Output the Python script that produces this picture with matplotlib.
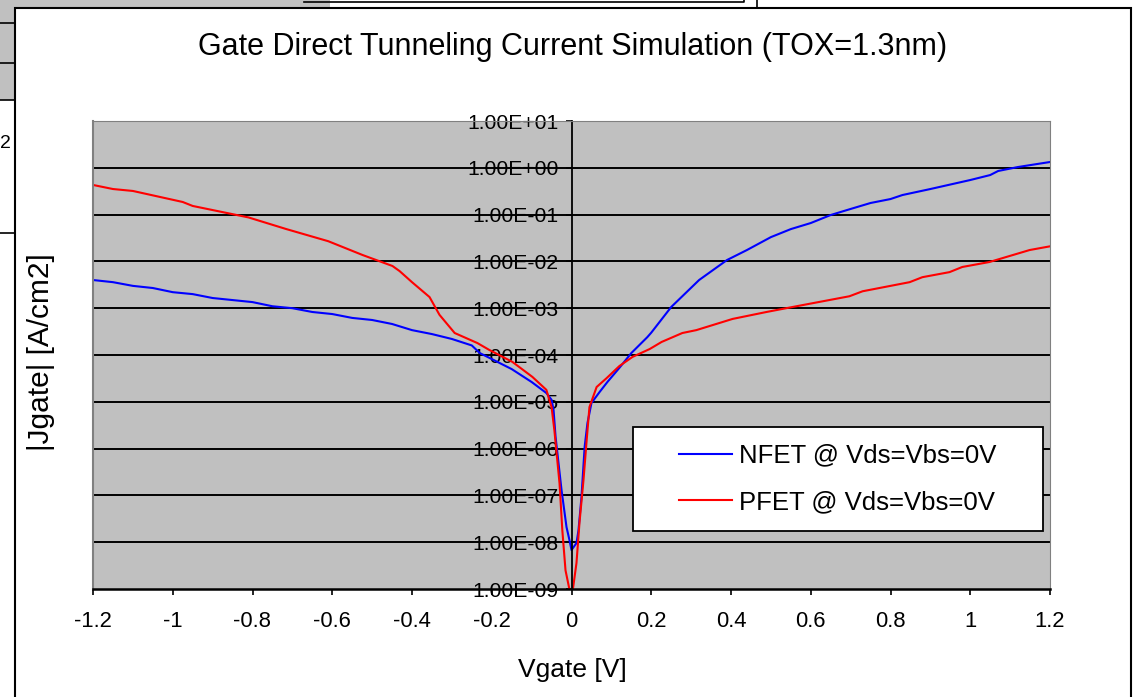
import matplotlib
matplotlib.use("Agg")
import matplotlib.pyplot as plt
from matplotlib.patches import Rectangle
from matplotlib.lines import Line2D
from matplotlib.ticker import FuncFormatter, NullLocator

plt.rcParams['font.family'] = ['Liberation Sans', 'DejaVu Sans']

# NFET gate current density vs gate voltage
nfet_v = [-1.2, -1.15, -1.1, -1.05, -1.0, -0.95, -0.9, -0.8, -0.75, -0.7, -0.65, -0.6,
          -0.55, -0.5, -0.45, -0.4, -0.35, -0.3, -0.25, -0.23, -0.2, -0.15, -0.1, -0.063,
          -0.05, -0.045, -0.04, -0.025, -0.0125, -0.005, 0.0, 0.0125, 0.0175, 0.025, 0.033,
          0.04, 0.05, 0.07, 0.09, 0.12, 0.15, 0.19, 0.2, 0.25, 0.32, 0.39, 0.44, 0.5, 0.55,
          0.6, 0.65, 0.7, 0.75, 0.8, 0.83, 0.9, 1.0, 1.05, 1.07, 1.12, 1.2]
nfet_j = [4.0e-3, 3.6e-3, 3.0e-3, 2.7e-3, 2.2e-3, 2.0e-3, 1.65e-3, 1.35e-3, 1.1e-3, 1.0e-3,
          8.3e-4, 7.5e-4, 6.2e-4, 5.6e-4, 4.6e-4, 3.4e-4, 2.8e-4, 2.2e-4, 1.6e-4, 1.1e-4,
          8.2e-5, 5.0e-5, 2.65e-5, 1.54e-5, 1.1e-5, 6.7e-6, 1.8e-6, 1.3e-7, 2.1e-8, 1.1e-8,
          6.8e-9, 9.6e-9, 1.8e-8, 9.2e-8, 1.1e-6, 3.5e-6, 9.4e-6, 1.6e-5, 2.65e-5, 5.3e-5,
          1.1e-4, 2.4e-4, 3.0e-4, 1.06e-3, 4.0e-3, 1.07e-2, 1.75e-2, 3.3e-2, 4.9e-2, 6.6e-2,
          9.8e-2, 0.132, 0.177, 0.215, 0.262, 0.352, 0.548, 0.70, 0.855, 1.04, 1.33]

# PFET gate current density vs gate voltage
pfet_v = [-1.2, -1.15, -1.1, -0.975, -0.95, -0.81, -0.715, -0.61, -0.524, -0.449, -0.431,
          -0.4, -0.356, -0.331, -0.293, -0.236, -0.206, -0.148, -0.098, -0.063, -0.05,
          -0.043, -0.03, -0.023, -0.015, 0.0, 0.0125, 0.02, 0.03, 0.038, 0.045, 0.063,
          0.088, 0.12, 0.153, 0.196, 0.226, 0.278, 0.313, 0.404, 0.489, 0.554, 0.697, 0.73,
          0.848, 0.88, 0.948, 0.98, 1.048, 1.149, 1.2]
pfet_j = [0.43, 0.352, 0.32, 0.186, 0.153, 8.7e-2, 4.9e-2, 2.7e-2, 1.37e-2, 7.98e-3, 6.2e-3,
          3.6e-3, 1.73e-3, 7.2e-4, 2.95e-4, 1.8e-4, 1.28e-4, 7.1e-5, 3.4e-5, 1.8e-5, 7.7e-6,
          2.5e-6, 1.8e-7, 1.8e-8, 2.5e-9, 6.0e-10, 3.6e-9, 2.6e-8, 2.1e-7, 1.5e-6, 7.7e-6,
          2.07e-5, 3.2e-5, 5.8e-5, 9.1e-5, 1.34e-4, 1.9e-4, 2.95e-4, 3.4e-4, 5.9e-4, 8.3e-4,
          1.06e-3, 1.8e-3, 2.3e-3, 3.6e-3, 4.6e-3, 5.9e-3, 7.6e-3, 9.7e-3, 1.75e-2, 2.1e-2]

xticks = [-1.2, -1.0, -0.8, -0.6, -0.4, -0.2, 0.0, 0.2, 0.4, 0.6, 0.8, 1.0, 1.2]
xtick_labels = ['-1.2', '-1', '-0.8', '-0.6', '-0.4', '-0.2', '0', '0.2', '0.4', '0.6',
                '0.8', '1', '1.2']
yticks = [1e-9, 1e-8, 1e-7, 1e-6, 1e-5, 1e-4, 1e-3, 1e-2, 1e-1, 1e0, 1e1]

W, H = 1135, 697
fig = plt.figure(figsize=(W / 100, H / 100), dpi=100)

# bits of the sheet behind the chart
fig.patches.append(Rectangle((0, 1 - 8 / H), 330 / W, 8 / H, transform=fig.transFigure,
                             facecolor='#c0c0c0', edgecolor='none'))
fig.patches.append(Rectangle((0, 1 - 100 / H), 15 / W, 100 / H, transform=fig.transFigure,
                             facecolor='#c0c0c0', edgecolor='none'))
for yy in [23, 63, 100, 233]:
    fig.add_artist(Line2D([0, 15 / W], [1 - yy / H, 1 - yy / H], transform=fig.transFigure,
                          color='black', lw=1.2))
fig.add_artist(Line2D([304 / W, 744 / W, 744 / W], [1 - 2 / H, 1 - 2 / H, 1],
                      transform=fig.transFigure, color='black', lw=1.2))
fig.add_artist(Line2D([757 / W, 757 / W], [1, 1 - 8 / H], transform=fig.transFigure,
                      color='black', lw=1.2))
fig.text(0, 1 - 143 / H, '2', fontsize=14, ha='left', va='center')

# chart area frame
fig.patches.append(Rectangle((15 / W, -0.05), (1131 - 15) / W, 1.05 - 8 / H,
                             transform=fig.transFigure, fill=False,
                             edgecolor='black', lw=1.5))

ax = fig.add_axes([93 / W, 1 - 589 / H, 957 / W, 468 / H])
ax.set_zorder(2)
ax.set_facecolor('#c0c0c0')
ax.set_yscale('log')
ax.set_xlim(-1.2, 1.2)
ax.set_ylim(1e-9, 1e1)

for y in yticks[1:-1]:
    ax.axhline(y, color='black', lw=1.4, zorder=1)

ax.plot(nfet_v, nfet_j, color='#0000ff', lw=1.5, label='NFET @ Vds=Vbs=0V', zorder=2)
ax.plot(pfet_v, pfet_j, color='#ff0000', lw=1.5, label='PFET @ Vds=Vbs=0V', zorder=2)

ax.spines['top'].set_color('#808080')
ax.spines['right'].set_color('#808080')
ax.axvline(-1.2, color='#808080', lw=1.5, clip_on=False)
ax.spines['left'].set_position(('data', 0))
ax.spines['left'].set_color('black')
ax.spines['left'].set_linewidth(1.3)
ax.spines['bottom'].set_color('black')
ax.spines['bottom'].set_linewidth(1.8)

ax.set_yticks(yticks)
ax.yaxis.set_minor_locator(NullLocator())
ax.yaxis.set_major_formatter(FuncFormatter(lambda v, pos: f"{v:.2E}"))
ax.tick_params(axis='y', direction='out', length=4.5, width=1.2, pad=5, labelsize=15.2)
ax.set_xticks(xticks)
ax.set_xticklabels(xtick_labels)
ax.tick_params(axis='x', direction='out', length=4, width=1.2, pad=12, labelsize=15.8)

# legend box
ax.add_patch(Rectangle((0.564, 0.124), 0.4287, 0.222, transform=ax.transAxes,
                       facecolor='white', edgecolor='black', lw=1.3, zorder=4))
ax.legend(loc='center', bbox_to_anchor=(0.7785, 0.235), frameon=False, fontsize=18.5,
          handlelength=2.06, handletextpad=0.27, labelspacing=0.88).set_zorder(5)

fig.text(573 / W, 1 - 47 / H, 'Gate Direct Tunneling Current Simulation (TOX=1.3nm)',
         ha='center', va='center', fontsize=22)
fig.text(572 / W, 1 - 670 / H, 'Vgate [V]', ha='center', va='center', fontsize=19)
fig.text(41 / W, 1 - 352 / H, '|Jgate| [A/cm2]', ha='center', va='center', fontsize=21.5,
         rotation=90)

fig.savefig('out.png', dpi=100)
